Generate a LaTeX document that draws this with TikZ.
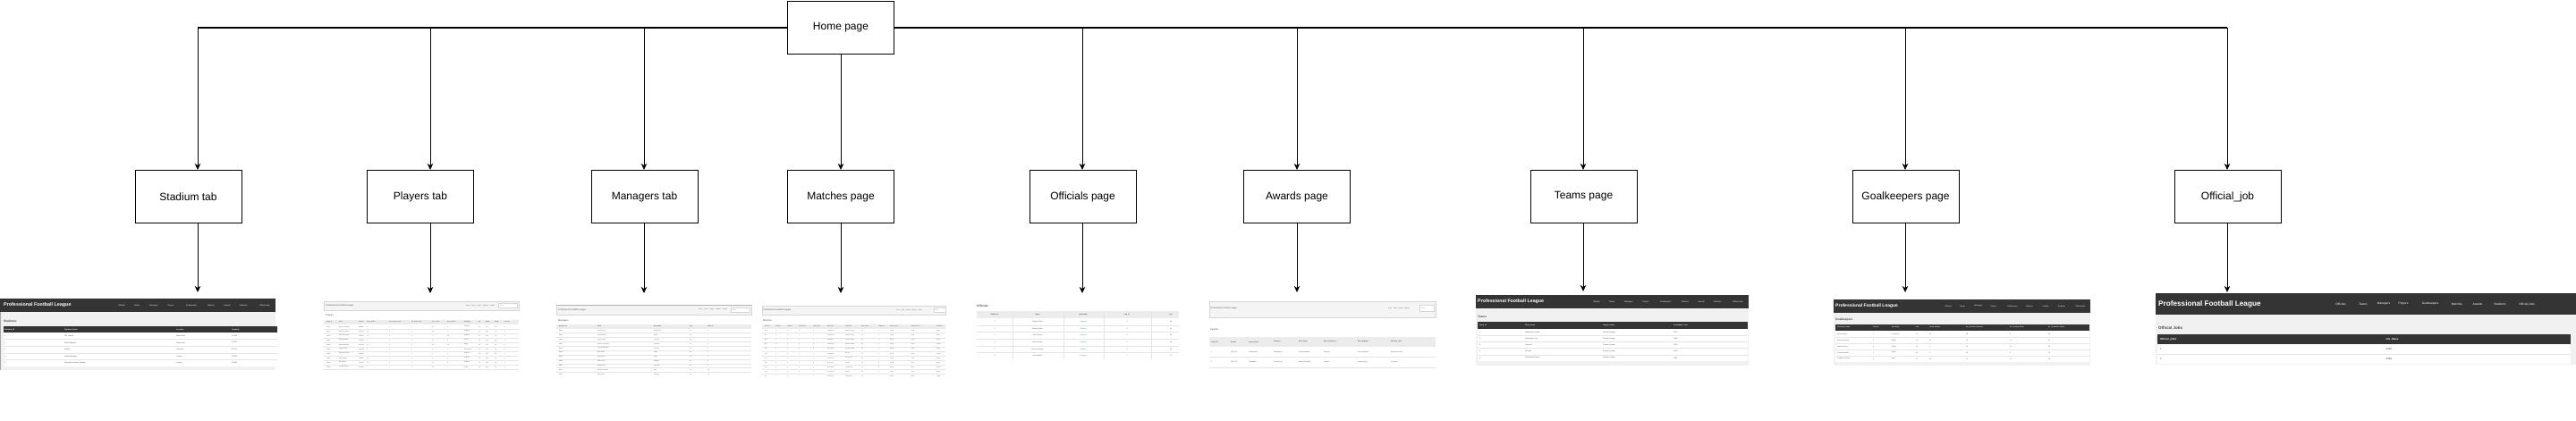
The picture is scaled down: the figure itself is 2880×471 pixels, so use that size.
\documentclass[tikz,border=0pt]{standalone}
\usepackage{fontspec}
\setmainfont{Liberation Sans}
\usetikzlibrary{arrows.meta}
\definecolor{bar}{HTML}{343434}
\definecolor{bodybg}{HTML}{F1F1F1}
\definecolor{lhead}{HTML}{F4F4F4}
\definecolor{lborder}{HTML}{D6D6D6}
\definecolor{thead}{HTML}{ECECEC}
\definecolor{txt}{HTML}{4A4A4A}
\definecolor{sepc}{HTML}{E4E4E4}
\definecolor{lnk}{HTML}{3F7CC0}
% column of cells: x, y0, row height, list, style, name prefix
\newcommand\tcol[6]{\foreach \vv [count=\rr] in {#4} \node[#5, name=#6-\rr] at (#1,{#2+#3*(\rr-0.5)}) {\vv};}
\newcommand\rowseps[5]{\foreach \kk in {1,...,#5} \draw[sep] (#1,{#3+#4*\kk}) -- (#2,{#3+#4*\kk});}
\tikzset{
  pagebox/.style={draw, line width=1pt, minimum width=119pt, minimum height=59pt, inner sep=2pt, font=\fontsize{12}{14}\selectfont},
  link/.style={line width=0.9pt, -{Stealth[length=7pt,width=6.5pt,inset=2pt]}},
  trunk/.style={line width=1.5pt},
  cell/.style={inner sep=0, anchor=west, text=txt, font=\fontsize{#1}{#1}\selectfont},
  cellc/.style={cell=#1, anchor=center},
  hcell/.style={inner sep=0, anchor=west, text=white, font=\bfseries\fontsize{#1}{#1}\selectfont},
  dhcell/.style={inner sep=0, anchor=west, text=txt, font=\bfseries\fontsize{#1}{#1}\selectfont},
  sep/.style={draw=sepc, line width=0.3pt},
}
\begin{document}
\begin{tikzpicture}[x=1pt,y=-1pt]
\useasboundingbox (0,0) rectangle (2880,471);

% ---------------- page boxes ----------------
\node[pagebox] (home) at (940,31) {Home page};
\node[pagebox] (stadium) at (210.5,220) {Stadium tab};
\node[pagebox] (players) at (470,220) {Players tab};
\node[pagebox] (managers) at (720.5,220) {Managers tab};
\node[pagebox] (matches) at (940,220) {Matches page};
\node[pagebox] (officials) at (1210.5,220) {Officials page};
\node[pagebox] (awards) at (1450,220) {Awards page};
\node[pagebox] (teams) at (1770.5,220) {Teams page};
\node[pagebox] (goalkeepers) at (2130.5,220) {Goalkeepers page};
\node[pagebox] (officialjob) at (2490.5,220) {Official\_job};

% ---------------- connectors ----------------
\coordinate (j1) at (221,31);
\coordinate (j2) at (481,31);
\coordinate (j3) at (720,31);
\coordinate (j5) at (1210,31);
\coordinate (j6) at (1450,31);
\coordinate (j7) at (1770,31);
\coordinate (j8) at (2130,31);
\coordinate (j9) at (2490,31);
\draw[trunk] (j1) -- (home.west);
\draw[trunk] (home.east) -- (j9);
\draw[link] (j1) -- (stadium.north -| j1);
\draw[link] (j2) -- (players.north -| j2);
\draw[link] (j3) -- (managers.north -| j3);
\draw[link] (home.south) -- (matches.north);
\draw[link] (j5) -- (officials.north -| j5);
\draw[link] (j6) -- (awards.north -| j6);
\draw[link] (j7) -- (teams.north -| j7);
\draw[link] (j8) -- (goalkeepers.north -| j8);
\draw[link] (j9) -- (officialjob.north -| j9);

\coordinate (s1) at (221,327);
\coordinate (s2) at (481,328);
\coordinate (s3) at (720,328);
\coordinate (s4) at (940,328);
\coordinate (s5) at (1210,328);
\coordinate (s6) at (1450,327);
\coordinate (s7) at (1770,326);
\coordinate (s8) at (2130,327);
\coordinate (s9) at (2490,327);
\draw[link] (stadium.south -| s1) -- (s1);
\draw[link] (players.south -| s2) -- (s2);
\draw[link] (managers.south -| s3) -- (s3);
\draw[link] (matches.south) -- (s4);
\draw[link] (officials.south -| s5) -- (s5);
\draw[link] (awards.south -| s6) -- (s6);
\draw[link] (teams.south -| s7) -- (s7);
\draw[link] (goalkeepers.south -| s8) -- (s8);
\draw[link] (officialjob.south -| s9) -- (s9);

% ================= Screenshot 1: Stadiums =================
\fill[bodybg] (0,349) rectangle (308,414);
\draw[gray!70, line width=0.6pt] (0.3,349) -- (0.3,414);
\fill[bar] (0,334) rectangle (308,349);
\node[hcell=5.4] (s1title) at (4,341.5) {Professional Football League};
\foreach \o/\t [count=\k] in {136/Officials,153/Teams,172/Managers,191/Players,214/Goalkeepers,236/Matches,254/Awards,272/Stadiums,296/Official Jobs}
  \node[cellc=2.1, text=white, name=s1n-\k] at ({0+\o},341.5) {\t};
\node[dhcell=3.2] (s1label) at (4,359) {Stadiums};
\fill[bar] (4,365) rectangle (310,372);
\foreach \o/\t [count=\k] in {5/Stadium\_ID,72/Stadium\_Name,197/Location,259/Capacity}
  \node[hcell=2, name=s1h-\k] at (\o,368.5) {\t};
\fill[white] (4,372) rectangle (310,410);
\rowseps{4}{310}{372}{7.6}{4}
\tcol{5}{372}{7.6}{1,2,3,4,5}{cell=1.9}{s1a}
\tcol{72}{372}{7.6}{Old Trafford,Etihad Stadium,Anfield,Stamford Bridge,Tottenham Hotspur Stadium}{cell=1.9}{s1b}
\tcol{197}{372}{7.6}{Manchester,Manchester,Liverpool,London,London}{cell=1.9}{s1c}
\tcol{259}{372}{7.6}{{74{,}140},{53{,}400},{54{,}074},{40{,}834},{62{,}850}}{cell=1.9}{s1d}

% ================= Screenshot 2: Players =================
\filldraw[fill=lhead, draw=lborder, line width=0.4pt] (362,337) rectangle (580,347);
\node[cell=2.4] (s2title) at (364,342) {Professional Football League};
\node[cell=1.5] (s2nav) at (521,342) {Home\hspace{1.5pt} Teams\hspace{1.5pt} Players\hspace{1.5pt} Matches\hspace{1.5pt} Awards};
\filldraw[fill=white, draw=lborder, line width=0.3pt] (557,339.5) rectangle (578,344.5);
\node[cell=1.4, text=gray] (s2search) at (558.5,342) {Search};
\node[cell=2.6] (s2label) at (364,353) {Players};
\fill[thead] (362,358) rectangle (580,363);
\foreach \o/\t [count=\k] in {365/Player\_ID,379/Name,401/Position,410/Jersey\_Number,435/No\_of\_Yellow\_Cards,460/No\_of\_Red\_Cards,483/No\_of\_Goals,500/No\_of\_Assists,519/Nationality,535/Age,543/Height,553/Weight,564/Team\_ID}
  \node[dhcell=1.3, name=s2h-\k] at (\o,360.5) {\t};
\rowseps{362}{580}{363}{5}{10}
\tcol{365}{363}{5}{10001,10002,10003,10004,10005,10006,10007,10008,10009,10010}{cell=1.5}{s2a}
\tcol{379}{363}{5}{Bruno Fernandes,Marcus Rashford,Kevin De Bruyne,Erling Haaland,Mohamed Salah,Virgil van Dijk,Raheem Sterling,Mason Mount,Harry Kane,Son Heung-min}{cell=1.5}{s2b}
\tcol{401}{363}{5}{Midfield,Forward,Midfield,Forward,Forward,Defender,Forward,Midfield,Forward,Forward}{cell=1.5}{s2c}
\tcol{410}{363}{5}{8,10,17,9,11,4,7,19,10,7}{cell=1.5}{s2d}
\tcol{435}{363}{5}{3,2,1,2,0,1,2,1,3,2}{cell=1.5}{s2e}
\tcol{460}{363}{5}{0,0,0,0,0,1,0,0,0,0}{cell=1.5}{s2f}
\tcol{483}{363}{5}{10,15,7,36,19,3,9,3,30,17}{cell=1.5}{s2g}
\tcol{500}{363}{5}{8,5,16,8,12,1,5,6,3,6}{cell=1.5}{s2h}
\tcol{519}{363}{5}{Portugal,England,Belgium,Norway,Egypt,Netherlands,England,England,England,Korea}{cell=1.5}{s2i}
\tcol{535}{363}{5}{28,25,31,22,30,31,28,24,29,30}{cell=1.5}{s2j}
\tcol{543}{363}{5}{179,180,181,195,175,193,170,181,188,183}{cell=1.5}{s2k}
\tcol{553}{363}{5}{69,70,70,88,71,92,69,74,86,78}{cell=1.5}{s2l}
\tcol{564}{363}{5}{1,1,2,2,3,3,4,4,5,5}{cell=1.5}{s2m}

% ================= Screenshot 3: Managers =================
\filldraw[fill=lhead, draw=lborder, line width=0.4pt] (622,341) rectangle (840,352);
\draw[gray!60, line width=0.6pt] (622,341) -- (840,341);
\node[cell=2.4] (s3title) at (624,346.5) {Professional Football League};
\node[cell=1.5] (s3nav) at (781,346.5) {Home\hspace{1.5pt} Teams\hspace{1.5pt} Players\hspace{1.5pt} Matches\hspace{1.5pt} Awards};
\filldraw[fill=white, draw=lborder, line width=0.3pt] (817,344) rectangle (838,349);
\node[cell=1.4, text=gray] (s3search) at (818.5,346.5) {Search};
\node[cell=2.6] (s3label) at (624,359) {Managers};
\fill[thead] (622,363) rectangle (840,367.5);
\foreach \o/\t [count=\k] in {625/Manager\_ID,668/Name,731/Nationality,771/Age,791/Team\_ID}
  \node[dhcell=1.5, name=s3h-\k] at (\o,365.2) {\t};
\rowseps{622}{840}{367.5}{4.9}{10}
\tcol{625}{367.5}{4.9}{M001,M002,M003,M004,M005,M006,M007,M008,M009,M010,M011}{cell=1.5}{s3a}
\tcol{668}{367.5}{4.9}{Erik ten Hag,Pep Guardiola,Jurgen Klopp,Mauricio Pochettino,Ange Postecoglou,Mikel Arteta,Unai Emery,Eddie Howe,David Moyes,Roberto De Zerbi,Marco Silva}{cell=1.5}{s3b}
\tcol{731}{367.5}{4.9}{Netherlands,Spain,Germany,Argentina,Australia,Spain,Spain,England,Scotland,Italy,Portugal}{cell=1.5}{s3c}
\tcol{771}{367.5}{4.9}{53,52,56,51,58,41,51,45,60,44,46}{cell=1.5}{s3d}
\tcol{791}{367.5}{4.9}{1,2,3,4,5,6,7,8,9,10,11}{cell=1.5}{s3e}

% ================= Screenshot 4: Matches =================
\filldraw[fill=lhead, draw=lborder, line width=0.4pt] (852,342) rectangle (1057,352);
\node[cell=2.4] (s4title) at (853,347) {Professional Football League};
\node[cell=1.4] (s4nav) at (1002,347) {Home\hspace{1.2pt} Teams\hspace{1.2pt} Players\hspace{1.2pt} Matches\hspace{1.2pt} Awards};
\filldraw[fill=white, draw=lborder, line width=0.3pt] (1044,344.5) rectangle (1057,349.5);
\node[cell=1.3, text=gray] (s4search) at (1045,347) {Search};
\node[cell=2.6] (s4label) at (853,359) {Matches};
\fill[thead] (852,363) rectangle (1057,367.5);
\foreach \o/\t [count=\k] in {855/Match\_ID,867/Team1\_ID,880/Team2\_ID,893/Goals\_team1,909/Goals\_team2,925/Match\_Date,945/Competition,963/Match\_Result,982/Stadium\_ID,995/Best\_Player\_ID,1019/Best\_Official\_ID,1047/Attendance}
  \node[dhcell=1.2, name=s4h-\k] at (\o,365.2) {\t};
\rowseps{852}{1057}{367.5}{5.1}{10}
\tcol{855}{367.5}{5.1}{401,402,403,404,405,406,407,408,409,410,411}{cell=1.4}{s4a}
\tcol{867}{367.5}{5.1}{1,2,3,4,5,1,2,3,4,5,1}{cell=1.4}{s4b}
\tcol{880}{367.5}{5.1}{2,3,4,5,1,3,4,5,1,2,4}{cell=1.4}{s4c}
\tcol{893}{367.5}{5.1}{2,1,3,0,2,1,1,2,0,3,1}{cell=1.4}{s4d}
\tcol{909}{367.5}{5.1}{1,1,0,2,2,0,3,1,1,2,0}{cell=1.4}{s4e}
\tcol{925}{367.5}{5.1}{2023-08-14,2023-08-19,2023-08-27,2023-09-02,2023-09-16,2023-09-23,2023-09-30,2023-10-07,2023-10-21,2023-10-28,2023-11-04}{cell=1.4}{s4f}
\tcol{945}{367.5}{5.1}{Premier League,Premier League,Premier League,Premier League,Premier League,FA Cup,League Cup,FA Cup,League Cup,FA Cup,League Cup}{cell=1.4}{s4g}
\tcol{963}{367.5}{5.1}{2-1,1-1,3-0,0-2,2-2,1-0,1-3,2-1,0-1,3-2,1-0}{cell=1.4}{s4h}
\tcol{982}{367.5}{5.1}{1,2,3,4,5,1,2,3,4,5,1}{cell=1.4}{s4i}
\tcol{995}{367.5}{5.1}{10001,10004,10005,10009,10002,10003,10008,10006,10010,10007,10001}{cell=1.4}{s4j}
\tcol{1019}{367.5}{5.1}{2001,2002,2003,2004,2005,2006,2001,2002,2003,2004,2005}{cell=1.4}{s4k}
\tcol{1047}{367.5}{5.1}{73500,53400,54074,40341,61850,73200,53100,53900,40100,62000,73800}{cell=1.4}{s4l}

% ================= Screenshot 5: Officials =================
\node[dhcell=3.2] (s5label) at (1092,342) {Officials};
\fill[thead] (1092,348) rectangle (1318,356);
\foreach \o/\t [count=\k] in {1112/Official\_ID,1160/Name,1211/Nationality,1260/Job\_ID,1309/Age}
  \node[dhcell=1.8, anchor=center, name=s5h-\k] at (\o,352) {\t};
\foreach \o in {1132,1189,1234,1287} \draw[sep] (\o,348) -- (\o,402);
\rowseps{1092}{1318}{356}{7.7}{5}
\tcol{1112}{356}{7.7}{1,2,3,4,5,6}{cellc=1.8}{s5a}
\tcol{1160}{356}{7.7}{Michael Oliver,Anthony Taylor,Paul Tierney,Simon Hooper,Chris Kavanagh,Stuart Attwell}{cellc=1.8}{s5b}
\tcol{1211}{356}{7.7}{England,England,England,England,England,England}{cellc=1.8, text=lnk}{s5c}
\tcol{1260}{356}{7.7}{1,2,1,2,1,2}{cellc=1.8}{s5d}
\tcol{1309}{356}{7.7}{38,44,42,41,38,40}{cellc=1.8}{s5e}

% ================= Screenshot 6: Awards =================
\filldraw[fill=lhead, draw=lborder, line width=0.4pt] (1352,337) rectangle (1605,355);
\node[cell=2.3] (s6title) at (1353,345) {Professional Football League};
\node[cell=1.5] (s6nav) at (1552,345) {Home\hspace{1.2pt} Teams\hspace{1.2pt} Players\hspace{1.2pt} Matches};
\filldraw[fill=white, draw=lborder, line width=0.3pt] (1587,341.5) rectangle (1603,348.5);
\node[cell=1.4, text=gray] (s6search) at (1588.5,345) {Search};
\node[cell=2.6] (s6label) at (1353,369) {Awards};
\fill[thead] (1352,377) rectangle (1605,388);
\foreach \o/\t [count=\k] in {1354/Award\_ID,1376/Season,1396/Award\_Name,1424/Category,1452/Best\_Player,1480/Best\_Goalkeeper,1518/Best\_Manager,1555/Winning\_Team}
  \node[dhcell=1.7, name=s6h-\k] at (\o,382.5) {\t};
\rowseps{1352}{1605}{388}{11.5}{2}
\tcol{1354}{388}{11.5}{1,2}{cell=1.8}{s6a}
\tcol{1376}{388}{11.5}{2022-23,2021-22}{cell=1.8}{s6b}
\tcol{1396}{388}{11.5}{Golden Boot,Playmaker}{cell=1.8}{s6c}
\tcol{1424}{388}{11.5}{Champions,Runners-up}{cell=1.8}{s6d}
\tcol{1452}{388}{11.5}{Erling Haaland,Mohamed Salah}{cell=1.8}{s6e}
\tcol{1480}{388}{11.5}{Ederson,Alisson}{cell=1.8}{s6f}
\tcol{1518}{388}{11.5}{Pep Guardiola,Jurgen Klopp}{cell=1.8}{s6g}
\tcol{1555}{388}{11.5}{Manchester City,Liverpool}{cell=1.8}{s6h}

% ================= Screenshot 7: Teams =================
\fill[bodybg] (1650,345) rectangle (1955,409);
\fill[bar] (1650,330) rectangle (1955,345);
\node[hcell=5.3] (s7title) at (1652,337.5) {Professional Football League};
\foreach \o/\t [count=\k] in {135/Officials,152/Teams,171/Managers,190/Players,212/Goalkeepers,234/Matches,252/Awards,270/Stadiums,293/Official Jobs}
  \node[cellc=2.1, text=white, name=s7n-\k] at ({1650+\o},337.5) {\t};
\node[dhcell=3.2] (s7label) at (1652,354) {Teams};
\fill[bar] (1652,360) rectangle (1954,368);
\foreach \o/\t [count=\k] in {1654/Team\_ID,1705/Team\_name,1792/League\_name,1871/Foundation\_Year}
  \node[hcell=1.9, name=s7h-\k] at (\o,364) {\t};
\fill[white] (1652,368) rectangle (1954,404);
\rowseps{1652}{1954}{368}{7.2}{4}
\tcol{1654}{368}{7.2}{1,2,3,4,5}{cell=1.9}{s7a}
\tcol{1705}{368}{7.2}{Manchester United,Manchester City,Liverpool,Chelsea,Tottenham Hotspur}{cell=1.9}{s7b}
\tcol{1792}{368}{7.2}{Premier League,Premier League,Premier League,Premier League,Premier League}{cell=1.9}{s7c}
\tcol{1871}{368}{7.2}{1878,1880,1892,1905,1882}{cell=1.9}{s7d}

% ================= Screenshot 8: Goalkeepers =================
\fill[bodybg] (2050,350) rectangle (2337,409);
\fill[bar] (2050,335) rectangle (2337,350);
\node[hcell=5] (s8title) at (2052,342.5) {Professional Football League};
\foreach \o/\t [count=\k] in {128/Officials,144/Teams,162/Managers,179/Players,200/Goalkeepers,219/Matches,237/Awards,255/Stadiums,276/Official Jobs}
  \node[cellc=2, text=white, name=s8n-\k] at ({2050+\o},342.5) {\t};
\node[dhcell=3.2] (s8label) at (2052,358) {Goalkeepers};
\fill[bar] (2052,363) rectangle (2336,370);
\foreach \o/\t [count=\k] in {2054/Goalkeeper\_Name,2094/Team\_ID,2115/Nationality,2142/Age,2157/Jersey\_Number,2198/No\_of\_Goals\_Conceded,2247/No\_of\_Clean\_Sheets,2290/No\_of\_Matches\_Played}
  \node[hcell=1.6, name=s8h-\k] at (\o,366.5) {\t};
\fill[white] (2052,370) rectangle (2336,405);
\rowseps{2052}{2336}{370}{7}{4}
\tcol{2054}{370}{7}{Andre Onana,Ederson Moraes,Alisson Becker,Robert Sanchez,Guglielmo Vicario}{cell=1.8}{s8a}
\tcol{2094}{370}{7}{1,2,3,4,5}{cell=1.8}{s8b}
\tcol{2115}{370}{7}{Cameroon,Brazil,Brazil,Spain,Italy}{cell=1.8}{s8c}
\tcol{2142}{370}{7}{27,30,31,26,27}{cell=1.8}{s8d}
\tcol{2157}{370}{7}{24,31,1,1,13}{cell=1.8}{s8e}
\tcol{2198}{370}{7}{58,34,41,63,61}{cell=1.8}{s8f}
\tcol{2247}{370}{7}{9,14,14,8,10}{cell=1.8}{s8g}
\tcol{2290}{370}{7}{38,33,28,16,38}{cell=1.8}{s8h}

% ================= Screenshot 9: Official Jobs =================
\fill[bodybg] (2410,352) rectangle (2880,408);
\fill[bar] (2410,328) rectangle (2880,352);
\node[hcell=8.2] (s9title) at (2413,340) {Professional Football League};
\foreach \o/\t [count=\k] in {207/Officials,232/Teams,255/Managers,277/Players,307/Goalkeepers,337/Matches,360/Awards,385/Stadiums,415/Official Jobs}
  \node[cellc=3.2, text=white, name=s9n-\k] at ({2410+\o},340) {\t};
\node[dhcell=4.5] (s9label) at (2413,367) {Official Jobs};
\fill[bar] (2412,374) rectangle (2874,385);
\node[hcell=2.8] (s9h1) at (2415,379.5) {Official\_jobId};
\node[hcell=2.8] (s9h2) at (2667,379.5) {Job\_Name};
\fill[white] (2412,385) rectangle (2874,407);
\rowseps{2412}{2874}{385}{11}{1}
\tcol{2415}{385}{11}{1,2}{cell=2.8}{s9a}
\tcol{2667}{385}{11}{JOB1,JOB2}{cell=2.8}{s9b}
\end{tikzpicture}
\end{document}
